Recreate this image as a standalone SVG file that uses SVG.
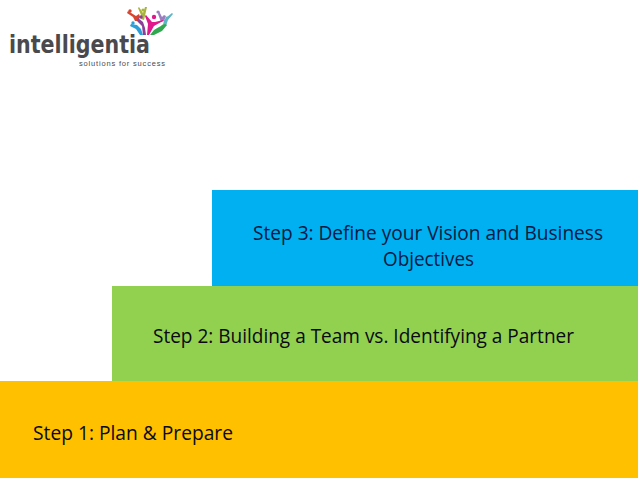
<svg xmlns="http://www.w3.org/2000/svg" width="638" height="479" viewBox="0 0 638 479">
<style>
.s{font-family:"Open Sans","Noto Sans","Liberation Sans",sans-serif;font-size:20.5px;fill:#0a0a14}
</style>
<rect width="638" height="479" fill="#fff"/>
<g id="logo">
<g id="figures">
<path d="M135 21l3 0 2-4-1-3-3 2-8-5-1 2 6 4z" fill="#d8452f"/>
<path d="M141 19l3 1 3-13-2 0-2 6-4-6-1 1 3 7z" fill="#a8b43a"/>
<path d="M158 14l3 8 3-1 2-5-2-1-2 2-3-6z" fill="#9a7fc0"/>
<path d="M163 25l3 1 2-6 5-6-1-1-5 4-3 3z" fill="#5fb4c4"/>
<path d="M146 35l-3 0-1-9-5-5 1-3 5 4 2 6z" fill="#8c3f96"/>
<path d="M147 35l2 0 5-9 9-5 0-1-8 2-3 0-6-7-1 1 3 8z" fill="#e0188c"/>
<path d="M143 35l-3 0-4-6-6-3 1-2 6 1 4 4z" fill="#2c9fd8"/>
<path d="M150 35l4 0 8-4 5-6-2-1-6 3-5 3z" fill="#2fa84f"/>
<circle cx="130" cy="11" r="1.7" fill="#d8452f"/><circle cx="143" cy="10" r="1.6" fill="#a8b43a"/><circle cx="158" cy="12" r="1.6" fill="#9a7fc0"/><circle cx="167" cy="18" r="1.6" fill="#5fb4c4"/><circle cx="141" cy="17" r="1.7" fill="#8c3f96"/><circle cx="154" cy="17" r="2.2" fill="#e0188c"/><circle cx="133" cy="23" r="1.7" fill="#2c9fd8"/><circle cx="163" cy="26" r="1.6" fill="#2fa84f"/>
</g>
<text x="9" y="53" font-family="'DejaVu Sans',sans-serif" font-weight="700" font-size="24" fill="#4a4a4e" textLength="141" lengthAdjust="spacingAndGlyphs">intelligentia</text>
<text x="79" y="66" font-family="'Liberation Sans',sans-serif" font-size="7.5" fill="#4a4a4e" textLength="86">solutions for success</text>
</g>
<g id="step3"><rect x="212" y="190" width="426" height="96" fill="#00b0f0"/>
<text class="s" x="253" y="240" textLength="350" lengthAdjust="spacingAndGlyphs" style="fill:#001a44">Step 3: Define your Vision and Business</text>
<text class="s" x="383" y="266" textLength="91" lengthAdjust="spacingAndGlyphs" style="fill:#001a44">Objectives</text></g>
<g id="step2"><rect x="112" y="286" width="526" height="95" fill="#92d050"/>
<text class="s" x="153" y="343" textLength="421" lengthAdjust="spacingAndGlyphs">Step 2: Building a Team vs. Identifying a Partner</text></g>
<g id="step1"><rect x="0" y="381" width="638" height="97" fill="#ffc000"/>
<text class="s" x="33" y="440" textLength="200" lengthAdjust="spacingAndGlyphs">Step 1: Plan &amp; Prepare</text></g>
</svg>
